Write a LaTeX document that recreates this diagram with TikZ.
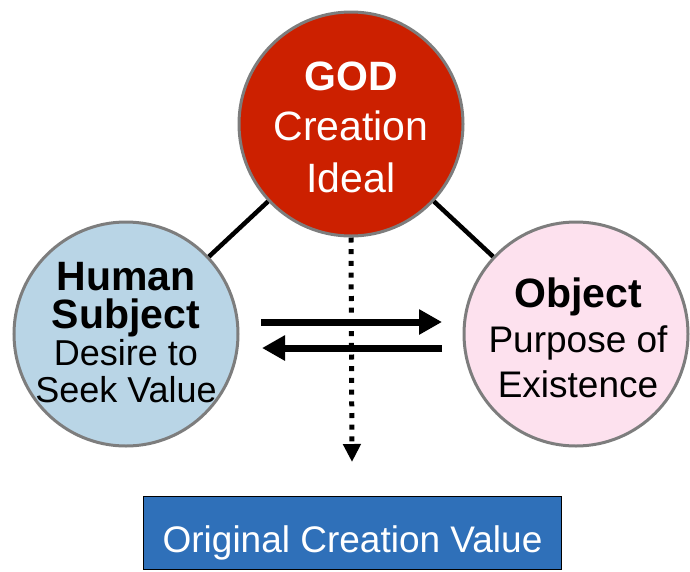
\documentclass[tikz,border=0pt]{standalone}
\usepackage{fontspec}
\setmainfont{Liberation Sans}
\usetikzlibrary{arrows.meta}
\definecolor{godred}{RGB}{204,32,0}
\definecolor{subjblue}{RGB}{185,213,230}
\definecolor{objpink}{RGB}{253,225,238}
\definecolor{boxblue}{RGB}{47,112,185}
\definecolor{ringgray}{RGB}{125,125,125}
\tikzset{
  ring/.style  ={circle, draw=ringgray, line width=3pt, minimum size=224pt, inner sep=0pt},
  godC/.style  ={ring, fill=godred},
  subjC/.style ={ring, fill=subjblue},
  objC/.style  ={ring, fill=objpink},
  tie/.style   ={black, line width=4.5pt},
  give/.style  ={black, line width=7pt, -{Triangle[length=23pt,width=24pt]}},
  flow/.style  ={black, line width=5pt, dash pattern=on 5pt off 6.7pt, -{Triangle[length=18pt,width=17pt]}},
  valbox/.style={draw=black, line width=1.2pt, fill=boxblue, minimum width=418pt, minimum height=73pt, inner sep=0pt},
  hdB/.style   ={anchor=base, inner sep=0pt, font=\fontsize{41}{49}\selectfont\bfseries},
  hdR/.style   ={anchor=base, inner sep=0pt, font=\fontsize{36}{43}\selectfont},
}

\begin{document}
\begin{tikzpicture}[x=1pt,y=-1pt]
  \useasboundingbox (0,0) rectangle (690,571);
  \node[godC]  (god)  at (351,124) {};
  \node[subjC] (subj) at (126,334) {};
  \node[objC]  (obj)  at (576,334) {};
  \draw[tie] (god) -- (subj);
  \draw[tie] (god) -- (obj);
  % GOD
  \node[hdB, white] (godA) at (351,90)  {GOD};
  \node[hdR, white, font=\fontsize{41}{49}\selectfont] (godB) at (351,140) {Creation};
  \node[hdR, white, font=\fontsize{41}{49}\selectfont] (godC) at (351,192) {Ideal};
  % subject
  \node[hdB] (subjA) at (126,290) {Human};
  \node[hdB] (subjB) at (126,328) {Subject};
  \node[hdR] (subjC) at (126,365) {Desire to};
  \node[hdR] (subjD) at (126,402) {Seek Value};
  % object
  \node[hdB] (objA) at (578,307) {Object};
  \node[hdR, font=\fontsize{37}{44}\selectfont] (objB) at (578,352) {Purpose of};
  \node[hdR, font=\fontsize{37}{44}\selectfont] (objC) at (578,397) {Existence};
  % value
  \node[valbox] (val) at (352.5,533) {};
  \node[hdR, white, font=\fontsize{37}{44}\selectfont] (valT) at (352.5,552) {Original Creation Value};
  % arrows
  \coordinate (giveS) at (261,322);
  \coordinate (giveE) at (442,322);
  \coordinate (backS) at (442,348);
  \coordinate (backE) at (262,348);
  \coordinate (flowE) at (352,462);
  \draw[give] (giveS) -- (giveE);
  \draw[give] (backS) -- (backE);
  \draw[flow] (god.south) -- (flowE);
\end{tikzpicture}
\end{document}
